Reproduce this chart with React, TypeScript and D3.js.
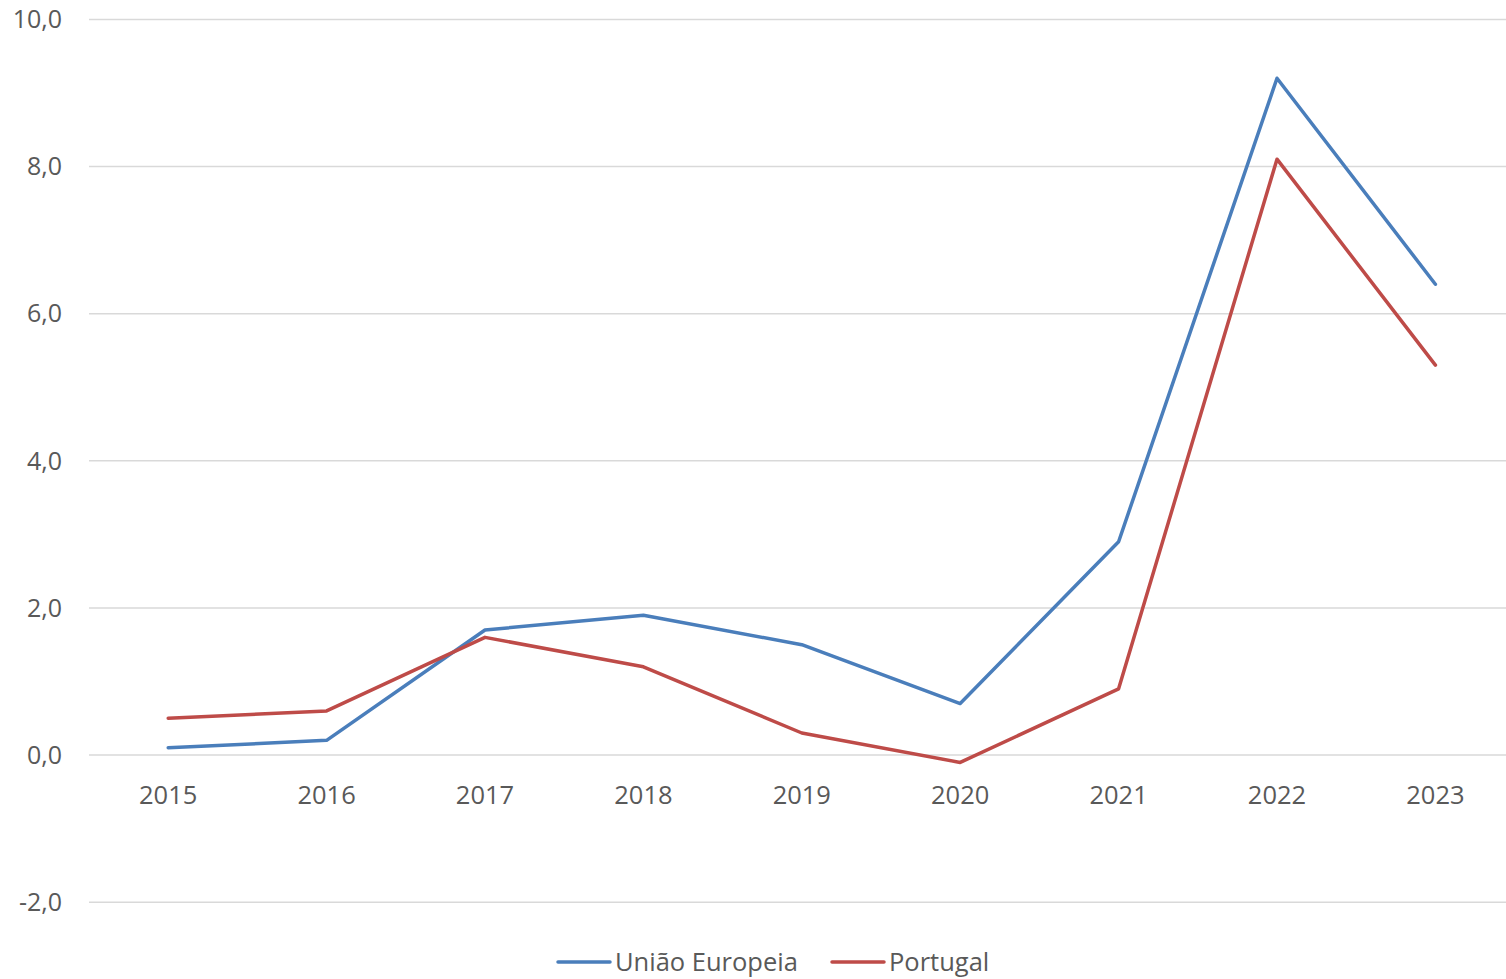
import * as d3 from 'd3';

const years = ['2015', '2016', '2017', '2018', '2019', '2020', '2021', '2022', '2023'];
const euValues = [0.1, 0.2, 1.7, 1.9, 1.5, 0.7, 2.9, 9.2, 6.4];
const ptValues = [0.5, 0.6, 1.6, 1.2, 0.3, -0.1, 0.9, 8.1, 5.3];
const yTicks = [-2, 0, 2, 4, 6, 8, 10];
const seriesNames = ['União Europeia', 'Portugal'];
const seriesColors = ['#4a7ebb', '#be4b48'];

const W = 1506;
const H = 979;
const plotLeft = 89;
const step = 158.4;
const font = "'Open Sans', sans-serif";

export default function App() {
	const x = d3.scalePoint<string>()
		.domain(years)
		.range([plotLeft, plotLeft + step * years.length])
		.padding(0.5);

	const y = d3.scaleLinear().domain([-2, 10]).range([902.2, 19.4]);

	const fmt = (v: number) => d3.format('.1f')(v).replace('.', ',').replace('−', '-');

	const line = d3.line<number>()
		.x((_, i) => x(years[i]) as number)
		.y(d => y(d));

	const series = [euValues, ptValues];

	return (
		<svg width={W} height={H} style={{ position: 'absolute', left: 0, top: 0, background: '#fff' }}>
			{yTicks.map(t => (
				<g key={t}>
					<line x1={plotLeft} x2={W} y1={y(t)} y2={y(t)} stroke="#d9d9d9" strokeWidth={1.5} />
					<text x={62} y={y(t)} dy="0.35em" textAnchor="end" fontFamily={font} fontSize={25} fill="#595959">
						{fmt(t)}
					</text>
				</g>
			))}
			{years.map(yr => (
				<text key={yr} x={x(yr)} y={y(0) + 40} dy="0.35em" textAnchor="middle" fontFamily={font} fontSize={25.5} fill="#595959">
					{yr}
				</text>
			))}
			{series.map((s, i) => (
				<path key={i} d={line(s) ?? ''} fill="none" stroke={seriesColors[i]} strokeWidth={3.5} strokeLinejoin="round" strokeLinecap="round" />
			))}
			<g>
				<line x1={558} x2={610} y1={962} y2={962} stroke={seriesColors[0]} strokeWidth={3.5} strokeLinecap="round" />
				<text x={615} y={962} dy="0.35em" fontFamily={font} fontSize={25.5} fill="#595959">{seriesNames[0]}</text>
				<line x1={832} x2={884} y1={962} y2={962} stroke={seriesColors[1]} strokeWidth={3.5} strokeLinecap="round" />
				<text x={889} y={962} dy="0.35em" fontFamily={font} fontSize={25.5} fill="#595959">{seriesNames[1]}</text>
			</g>
		</svg>
	);
}
